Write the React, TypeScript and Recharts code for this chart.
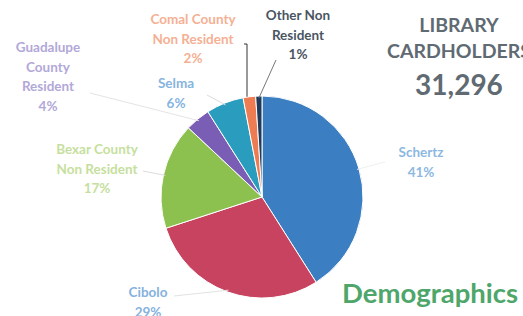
import { PieChart, Pie, Cell } from "recharts";

const places = [
  "Schertz",
  "Cibolo",
  "Bexar County Non Resident",
  "Guadalupe County Resident",
  "Selma",
  "Comal County Non Resident",
  "Other Non Resident",
];
const shares = [41, 29, 17, 4, 6, 2, 1];
const labelLines = [
  ["Schertz"],
  ["Cibolo"],
  ["Bexar County", "Non Resident"],
  ["Guadalupe", "County", "Resident"],
  ["Selma"],
  ["Comal County", "Non Resident"],
  ["Other Non", "Resident"],
];

const sliceColors = ["#3b7ec2", "#c8435f", "#8cc14f", "#7a5db4", "#2a9cbd", "#ee7c52", "#1f3a5a"];
const textColors = ["#8cb8e2", "#86b2de", "#c6df9e", "#b2a8d8", "#86b4e0", "#f5b094", "#4a5562"];

// where each label block sits (x = centre, y = first baseline) and where its leader ends
const labelSpots: Record<string, { x: number; y: number; lx: number; ly: number; lineColor: string }> = {
  Schertz: { x: 421, y: 157, lx: 385, ly: 162, lineColor: "#f0f0f0" },
  Cibolo: { x: 148, y: 297, lx: 174, ly: 296, lineColor: "#e2e2e2" },
  "Bexar County Non Resident": { x: 97, y: 154, lx: 143, ly: 171, lineColor: "#dcdcdc" },
  "Guadalupe County Resident": { x: 48, y: 52, lx: 90, ly: 93, lineColor: "#e4e4e4" },
  Selma: { x: 176, y: 88, lx: 207, ly: 95, lineColor: "#dcdcdc" },
  "Comal County Non Resident": { x: 193, y: 24, lx: 247, ly: 44, lineColor: "#333" },
  "Other Non Resident": { x: 298, y: 20, lx: 276, ly: 60, lineColor: "#777" },
};

const data = places.map((name, i) => ({ name, value: shares[i], lines: labelLines[i] }));

const RADIAN = Math.PI / 180;

function renderLabel(props: any) {
  const { cx, cy, midAngle, outerRadius, index } = props;
  const d = data[index];
  const spot = labelSpots[d.name];
  const sx = cx + (outerRadius - 2) * Math.cos(-midAngle * RADIAN);
  const sy = cy + (outerRadius - 2) * Math.sin(-midAngle * RADIAN);
  const rows = [...d.lines, `${d.value}%`];
  const isComal = d.name === "Comal County Non Resident";
  return (
    <g key={d.name}>
      {isComal ? (
        <polyline
          points={`${spot.lx - 3},${spot.ly} ${spot.lx},${spot.ly} ${spot.lx},${sy - 2}`}
          fill="none"
          stroke={spot.lineColor}
          strokeWidth={1}
        />
      ) : (
        <line x1={spot.lx} y1={spot.ly} x2={sx} y2={sy} stroke={spot.lineColor} strokeWidth={1} />
      )}
      <text
        x={spot.x}
        y={spot.y}
        textAnchor="middle"
        fill={textColors[index]}
        fontFamily="Lato, 'Open Sans', sans-serif"
        fontWeight={700}
        fontSize={13.5}
      >
        {rows.map((r, k) => (
          <tspan key={k} x={spot.x} dy={k === 0 ? 0 : 19.5}>
            {r}
          </tspan>
        ))}
      </text>
    </g>
  );
}

export default function App() {
  return (
    <div
      style={{
        position: "absolute",
        left: 0,
        top: 0,
        width: 523,
        height: 316,
        background: "#fff",
        overflow: "hidden",
        fontFamily: "Lato, 'Open Sans', sans-serif",
      }}
    >
      <PieChart width={523} height={316} margin={{ top: 0, right: 0, bottom: 0, left: 0 }}>
        <Pie
          data={data}
          dataKey="value"
          nameKey="name"
          cx={262}
          cy={197}
          outerRadius={101}
          startAngle={90}
          endAngle={-270}
          stroke="#fff"
          strokeWidth={1}
          label={renderLabel}
          labelLine={false}
          isAnimationActive={false}
        >
          {data.map((d, i) => (
            <Cell key={d.name} fill={sliceColors[i]} />
          ))}
        </Pie>
      </PieChart>
      <div
        style={{
          position: "absolute",
          left: 359,
          top: 12,
          width: 200,
          textAlign: "center",
          color: "#5f6a73",
          fontWeight: 700,
          fontSize: 19.5,
          lineHeight: "26px",
          whiteSpace: "nowrap",
        }}
      >
        LIBRARY
        <br />
        CARDHOLDERS
      </div>
      <div
        style={{
          position: "absolute",
          left: 359,
          top: 67,
          width: 200,
          textAlign: "center",
          color: "#5f6a73",
          fontWeight: 700,
          fontSize: 28,
        }}
      >
        31,296
      </div>
      <div
        style={{
          position: "absolute",
          left: 342,
          top: 276,
          color: "#4ea66a",
          fontWeight: 700,
          fontSize: 27.5,
        }}
      >
        Demographics
      </div>
    </div>
  );
}
